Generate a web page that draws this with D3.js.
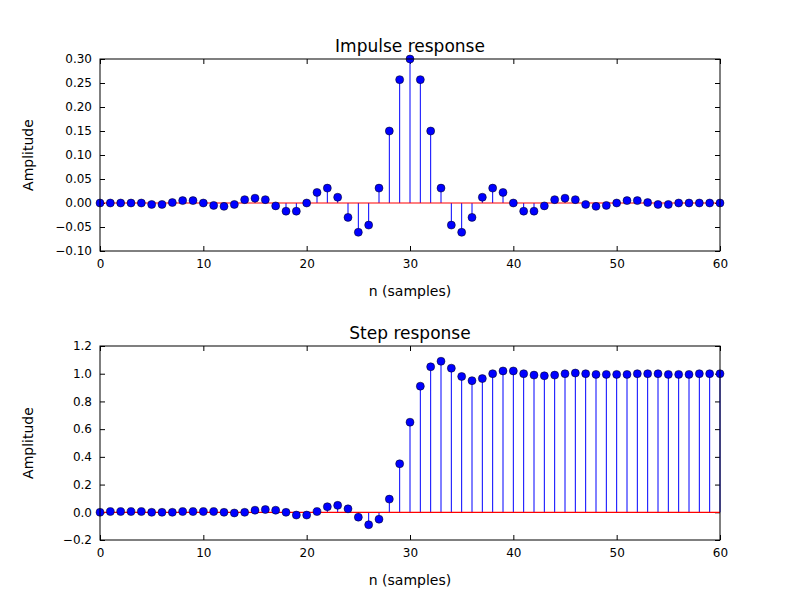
<!DOCTYPE html>
<html><head><meta charset="utf-8">
<script src="https://cdn.jsdelivr.net/npm/d3@7"></script>
<style>body{margin:0;background:#fff}text{font-family:"DejaVu Sans",sans-serif}</style>
</head><body><svg id="c" width="800" height="600"></svg>
<script>
const impulse = [0,0,0,0,0,-0.003,-0.003,0.001,0.005,0.005,0,-0.005,-0.007,-0.003,0.007,0.010,0.007,-0.006,-0.017,-0.017,0,0.022,0.031,0.012,-0.030,-0.061,-0.046,0.031,0.150,0.257,0.300,
  0.257,0.150,0.031,-0.046,-0.061,-0.030,0.012,0.031,0.022,0,-0.017,-0.017,-0.006,0.007,0.010,0.007,-0.003,-0.007,-0.005,0,0.005,0.005,0.001,-0.003,-0.003,0,0,0,0,0];
const step = [0,0.005,0.005,0.005,0.005,0,0,0,0.005,0.005,0.005,0.005,0,-0.005,0,0.015,0.02,0.015,0,-0.02,-0.02,0.005,0.04,0.05,0.025,-0.035,-0.09,-0.05,0.095,0.35,0.65,
  0.91,1.05,1.09,1.04,0.98,0.95,0.965,1.0,1.02,1.02,1.0,0.99,0.985,0.99,1.0,1.005,1.0,0.995,0.995,0.995,0.995,1.0,1.0,1.0,0.995,0.995,0.995,1.0,1.0,1.0];
const xTicks = [0,10,20,30,40,50,60];
const svg = d3.select("#c");

function panel(data, top, bottom, yDom, yTicks, fmt, title) {
  const x = d3.scaleLinear().domain([0,60]).range([100,720]);
  const y = d3.scaleLinear().domain(yDom).range([bottom, top]);
  const g = svg.append("g");
  const mk = (axis, tr) => {
    const a = g.append("g").attr("transform", tr).call(axis);
    a.select(".domain").remove();
    a.selectAll("line").attr("stroke","#000");
    a.selectAll("text").attr("font-size",12).attr("fill","#000");
    return a;
  };
  mk(d3.axisBottom(x).tickValues(xTicks).tickSize(-5).tickPadding(8), `translate(0,${bottom})`);
  mk(d3.axisTop(x).tickValues(xTicks).tickSize(-5).tickFormat(""), `translate(0,${top})`);
  mk(d3.axisLeft(y).tickValues(yTicks).tickSize(-5).tickPadding(8).tickFormat(fmt), `translate(100,0)`);
  mk(d3.axisRight(y).tickValues(yTicks).tickSize(-5).tickFormat(""), `translate(720,0)`);
  g.selectAll(".stem").data(data).join("line")
    .attr("x1",(d,i)=>x(i)).attr("x2",(d,i)=>x(i)).attr("y1",y(0)).attr("y2",d=>y(d))
    .attr("stroke","#0000ff").attr("stroke-width",1);
  g.append("line").attr("x1",x(0)).attr("x2",x(60)).attr("y1",y(0)).attr("y2",y(0))
    .attr("stroke","#ff0000").attr("stroke-width",1.2);
  g.selectAll(".dot").data(data).join("circle")
    .attr("cx",(d,i)=>x(i)).attr("cy",d=>y(d)).attr("r",4)
    .attr("fill","#0000ff").attr("stroke","#000").attr("stroke-width",0.5);
  g.append("rect").attr("x",100).attr("y",top).attr("width",620).attr("height",bottom-top)
    .attr("fill","none").attr("stroke","#000").attr("stroke-width",1);
  g.append("text").attr("x",410).attr("y",top-7).attr("text-anchor","middle").attr("font-size",17).text(title);
  g.append("text").attr("x",410).attr("y",bottom+45).attr("text-anchor","middle").attr("font-size",14).text("n (samples)");
  g.append("text").attr("transform",`translate(33,${(top+bottom)/2}) rotate(-90)`).attr("text-anchor","middle").attr("font-size",14).text("Amplitude");
}
panel(impulse, 59, 251, [-0.1,0.3], d3.range(-0.1,0.3001,0.05), d3.format(".2f"), "Impulse response");
panel(step, 346, 540, [-0.2,1.2], d3.range(-0.2,1.2001,0.2), d3.format(".1f"), "Step response");
</script></body></html>
